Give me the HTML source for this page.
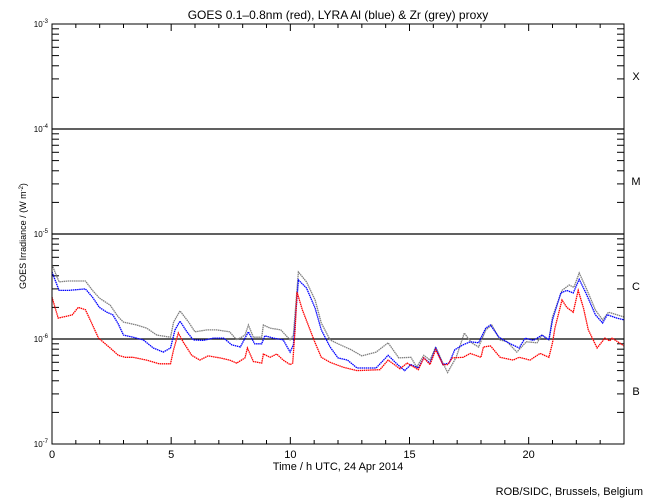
<!DOCTYPE html>
<html><head><meta charset="utf-8">
<style>
html,body{margin:0;padding:0;background:#fff;}
svg{display:block;font-family:"Liberation Sans",sans-serif;}
</style></head>
<body>
<svg id="chart" width="650" height="500" viewBox="0 0 650 500" xmlns="http://www.w3.org/2000/svg">
<rect width="650" height="500" fill="#fff"/>
<text x="338" y="19" font-size="12" text-anchor="middle">GOES 0.1–0.8nm (red), LYRA Al (blue) &amp; Zr (grey) proxy</text>
<text transform="translate(26,236) rotate(-90)" font-size="9" text-anchor="middle">GOES Irradiance / (W m<tspan baseline-shift="super" font-size="6">-2</tspan>)</text>
<text x="338" y="470" font-size="11" text-anchor="middle">Time / h UTC, 24 Apr 2014</text>
<text x="643" y="495" font-size="11" text-anchor="end">ROB/SIDC, Brussels, Belgium</text>
<g id="axes"></g>
<g id="series"></g>
<rect x="52" y="24" width="572" height="420" fill="none" stroke="#000" stroke-width="1"/>
</svg>
<script>
// data (irradiance in units of 1e-6 W/m^2)
const redT=[0,0.26,0.68,0.85,1.1,1.4,1.66,1.95,2.44,2.78,3.07,3.4,3.97,4.5,4.97,5.1,5.3,5.5,5.86,6.2,6.55,7.05,7.45,7.75,8.1,8.2,8.45,8.8,8.87,9.15,9.43,9.7,9.99,10.1,10.2,10.28,10.5,10.75,11.04,11.3,11.67,12.2,12.8,13.76,14.1,14.6,14.9,15.37,15.6,15.86,16.1,16.4,16.6,16.8,17.25,17.55,18.0,18.1,18.4,18.8,19.35,19.6,20.06,20.48,20.85,21.0,21.1,21.4,21.6,21.87,22.08,22.3,22.5,22.87,23.2,23.4,23.5,24];
const redV=[2.5,1.58,1.66,1.7,2.0,1.9,1.42,1.02,0.82,0.70,0.67,0.67,0.63,0.58,0.58,0.79,1.14,0.94,0.70,0.63,0.69,0.66,0.63,0.59,0.66,0.82,0.61,0.59,0.72,0.67,0.72,0.63,0.57,0.59,1.22,2.8,1.9,1.36,0.92,0.67,0.60,0.54,0.50,0.51,0.63,0.52,0.59,0.51,0.66,0.57,0.79,0.57,0.57,0.66,0.67,0.73,0.67,0.84,0.86,0.67,0.63,0.67,0.63,0.73,0.67,0.92,1.27,2.35,2.0,1.8,2.9,1.97,1.22,0.82,1.02,0.96,1.02,0.86];
const blueT=[0,0.3,0.68,1.4,1.7,1.99,2.3,2.55,2.78,3.0,3.4,3.83,4.25,4.67,4.97,5.16,5.37,5.66,5.93,6.35,6.77,7.2,7.54,7.9,8.24,8.5,8.8,8.93,9.3,9.7,9.99,10.13,10.34,10.68,11.04,11.3,11.67,12.0,12.4,12.8,13.1,13.6,14.1,14.5,14.8,15.06,15.37,15.6,15.86,16.1,16.4,16.66,16.9,17.25,17.55,17.9,18.2,18.4,18.75,19.15,19.6,19.85,20.2,20.56,20.85,21.0,21.35,21.6,21.87,22.12,22.4,22.8,23.1,23.3,23.7,24];
const blueV=[4.35,2.9,2.9,3.0,2.5,2.0,1.8,1.7,1.39,1.09,1.04,0.98,0.82,0.75,0.82,1.22,1.48,1.17,0.98,0.97,1.02,1.02,0.88,0.84,1.17,0.90,0.90,1.07,1.02,0.98,0.75,0.88,3.65,3.06,1.97,1.22,0.84,0.66,0.63,0.53,0.53,0.53,0.70,0.57,0.50,0.57,0.53,0.66,0.59,0.82,0.57,0.59,0.79,0.88,0.94,0.92,1.27,1.36,1.04,0.92,0.82,1.02,0.97,1.09,0.98,1.52,2.74,2.9,2.74,3.7,2.74,1.7,1.42,1.7,1.58,1.52];
const greyT=[0,0.3,0.68,1.4,1.7,1.99,2.44,2.78,3.0,3.55,3.97,4.4,4.97,5.1,5.37,5.73,6.0,6.5,6.9,7.45,7.75,8.1,8.24,8.45,8.8,8.87,9.15,9.6,9.99,10.13,10.34,10.68,11.04,11.3,11.67,12.0,12.55,13.0,13.6,14.1,14.55,15.06,15.3,15.6,15.86,16.1,16.4,16.6,16.96,17.3,17.6,17.9,18.2,18.45,18.8,19.1,19.5,19.9,20.35,20.56,20.85,21.0,21.4,21.7,21.9,22.12,22.4,22.8,23.1,23.35,23.7,24];
const greyV=[5.1,3.5,3.57,3.57,2.9,2.45,2.1,1.62,1.45,1.36,1.27,1.09,1.04,1.45,1.85,1.45,1.17,1.22,1.22,1.17,0.98,1.09,1.36,1.04,1.04,1.36,1.27,1.22,0.98,1.09,4.35,3.5,2.35,1.42,0.98,0.9,0.79,0.69,0.75,0.92,0.66,0.67,0.54,0.70,0.63,0.84,0.59,0.48,0.67,1.14,0.92,0.84,1.22,1.36,0.98,0.94,0.75,0.94,0.92,1.09,0.98,1.62,2.9,3.27,3.1,4.25,3.1,1.89,1.52,1.8,1.7,1.62];
const xTickLabels=["0","5","10","15","20"];
const yDecades=[-3,-4,-5,-6,-7];
const classLabels=["X","M","C","B"];

const L=52,R=624,T=24,B=444;
function xs(t){return L+(R-L)*t/24;}
function ys(v){return 339-105*Math.log10(v);} // v in 1e-6 units
function yl(e){return T+(-3-e)*105;}
const NS="http://www.w3.org/2000/svg";
const ax=document.getElementById('axes');
function mk(tag,attrs,parent){const e=document.createElementNS(NS,tag);for(const k in attrs)e.setAttribute(k,attrs[k]);parent.appendChild(e);return e;}

// x ticks
for(let h=0;h<=24;h++){
  const x=xs(h),len=(h%5===0)?7:4;
  const t1=mk('line',{x1:x,x2:x,y1:B,y2:B-len,stroke:'#000'},ax);
  
  
  const t2=mk('line',{x1:x,x2:x,y1:T,y2:T+len,stroke:'#000'},ax);
  
  
}
xTickLabels.forEach((s,i)=>{
  const t=mk('text',{x:xs(i*5),y:B+14,'font-size':11,'text-anchor':'middle'},ax);
  t.textContent=s;
  
  
});
// y ticks
yDecades.forEach((e,i)=>{
  const y=yl(e);
  if(i>0&&i<yDecades.length-1){
    const g=mk('line',{x1:L,x2:R,y1:y,y2:y,stroke:'#000','stroke-width':1.2},ax);
    
    
  }
  const t=mk('text',{x:L-4,y:y+3,'font-size':8,'text-anchor':'end'},ax);
  t.innerHTML='10<tspan font-size="6" dy="-4">'+e+'</tspan>';
  
  
  if(i<yDecades.length-1){
    for(let m=2;m<=9;m++){
      const yy=y+105*(1-Math.log10(m));
      const a=mk('line',{x1:L,x2:L+7,y1:yy,y2:yy,stroke:'#000'},ax);
      
      
      const b=mk('line',{x1:R,x2:R-7,y1:yy,y2:yy,stroke:'#000'},ax);
      
      
    }
  }
});
classLabels.forEach((c,i)=>{
  const t=mk('text',{x:636,y:yl(-3-i)+56,'font-size':11,'text-anchor':'middle'},ax);
  t.textContent=c;
  
  
});
// series
const sg=document.getElementById('series');
function series(T_,V_,col,name){
  const pts=T_.map((t,i)=>xs(t).toFixed(1)+','+ys(V_[i]).toFixed(1)).join(' ');
  const p=mk('polyline',{points:pts,fill:'none',stroke:col,'stroke-width':1.3,'stroke-dasharray':'1.5 0.6'},sg);
  
  
}
series(greyT,greyV,'#808080','zr-grey-series');
series(blueT,blueV,'#0000ff','al-blue-series');
series(redT,redV,'#ff0000','goes-red-series');
</script>
</body></html>
